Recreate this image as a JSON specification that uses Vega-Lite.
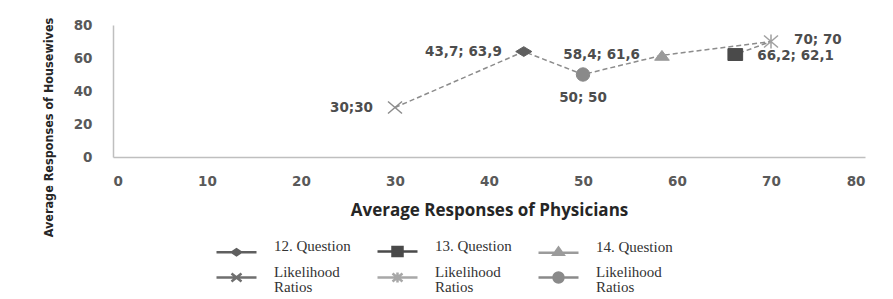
{
  "$schema": "https://vega.github.io/schema/vega-lite/v6.json",
  "width": 752,
  "height": 132,
  "autosize": {"type": "none"},
  "padding": {"left": 113, "top": 25, "right": 28, "bottom": 142},
  "background": "#ffffff",
  "config": {
    "view": {"stroke": null},
    "style": {"guide-label": {"lineHeight": 15}},
    "legend": {
      "orient": "none", "legendX": 101, "legendY": 213,
      "columns": 3, "direction": "horizontal",
      "padding": 0, "columnPadding": 21, "rowPadding": 3,
      "symbolSize": 100, "symbolOffset": 0, "labelOffset": 45, "symbolStrokeWidth": 2.5,
      "symbolOpacity": 1,
      "labelFont": "Liberation Serif", "labelFontSize": 15, "labelColor": "#333333",
      "labelLimit": 200
    }
  },
  "data": {
    "values": [
      {"series": "Likelihood Ratios (x)", "x": 30, "y": 30, "label": "30;30", "seq": 1},
      {"series": "12. Question", "x": 43.7, "y": 63.9, "label": "43,7; 63,9", "seq": 2},
      {"series": "Likelihood Ratios (o)", "x": 50, "y": 50, "label": "50; 50", "seq": 3},
      {"series": "14. Question", "x": 58.4, "y": 61.6, "label": "58,4; 61,6", "seq": 4},
      {"series": "Likelihood Ratios (*)", "x": 70, "y": 70, "label": "70; 70", "seq": 5},
      {"series": "13. Question", "x": 66.2, "y": 62.1, "label": "66,2; 62,1", "seq": 6}
    ]
  },
  "encoding": {
    "x": {
      "field": "x", "type": "quantitative",
      "scale": {"domain": [0, 80], "nice": false},
      "axis": {
        "title": "Average Responses of Physicians",
        "values": [0, 10, 20, 30, 40, 50, 60, 70, 80],
        "grid": false, "ticks": false,
        "domainColor": "#bfbfbf", "domainWidth": 1.5,
        "labelFont": "DejaVu Sans", "labelFontWeight": "bold", "labelFontSize": 13.5,
        "labelColor": "#595959", "labelPadding": 17,
        "titleFont": "Open Sans", "titleFontWeight": "bold", "titleFontSize": 17,
        "titleColor": "#262626", "titlePadding": 15
      }
    },
    "y": {
      "field": "y", "type": "quantitative",
      "scale": {"domain": [0, 80], "nice": false},
      "axis": {
        "title": "Average Responses of Housewives",
        "values": [0, 20, 40, 60, 80],
        "grid": false, "ticks": false,
        "domainColor": "#bfbfbf", "domainWidth": 1.5,
        "labelFont": "DejaVu Sans", "labelFontWeight": "bold", "labelFontSize": 13.5,
        "labelColor": "#595959", "labelPadding": 21,
        "titleFont": "DejaVu Sans Condensed", "titleFontWeight": "bold", "titleFontSize": 12.5,
        "titleColor": "#262626", "titleAngle": -90, "titleAlign": "center", "titleBaseline": "middle",
        "titleX": -65, "titleY": 102
      }
    }
  },
  "layer": [
    {
      "mark": {"type": "line", "color": "#8c8c8c", "strokeWidth": 1.5, "strokeDash": [5, 3]},
      "encoding": {"order": {"field": "seq", "type": "quantitative"}}
    },
    {
      "transform": [{"filter": "false"}],
      "mark": {"type": "point", "filled": true, "opacity": 1},
      "encoding": {
        "fill": {
          "field": "series", "type": "nominal",
          "scale": {
            "domain": ["12. Question", "13. Question", "14. Question", "Likelihood Ratios (x)", "Likelihood Ratios (*)", "Likelihood Ratios (o)"],
            "range": ["#5f5f5f", "#4a4a4a", "#9b9b9b", "#6f6f6f", "#a8a8a8", "#8a8a8a"]
          },
          "legend": {"title": null, "labelExpr": "indexof(datum.value, 'Likelihood') >= 0 ? ['Likelihood', 'Ratios'] : datum.value"}
        },
        "stroke": {
          "field": "series", "type": "nominal",
          "scale": {
            "domain": ["12. Question", "13. Question", "14. Question", "Likelihood Ratios (x)", "Likelihood Ratios (*)", "Likelihood Ratios (o)"],
            "range": ["#5f5f5f", "#4a4a4a", "#9b9b9b", "#6f6f6f", "#a8a8a8", "#8a8a8a"]
          },
          "legend": {"title": null, "labelExpr": "indexof(datum.value, 'Likelihood') >= 0 ? ['Likelihood', 'Ratios'] : datum.value"}
        },
        "shape": {
          "field": "series", "type": "nominal",
          "scale": {
            "domain": ["12. Question", "13. Question", "14. Question", "Likelihood Ratios (x)", "Likelihood Ratios (*)", "Likelihood Ratios (o)"],
            "range": [
              "M-1,1.2H7M2.1,1.2L3,0.6L3.9,1.2L3,1.8Z",
              "M-1,1.2H7M2,0.3H4V2.1H2Z",
              "M-1,1.2H7M2,1.6L3,0.2L4,1.6Z",
              "M-1,1.2H7M2,0.4L4,2M2,2L4,0.4",
              "M-1,1.2H7M2,0.4L4,2M2,2L4,0.4M3,0.2V2.2",
              "M-1,1.2H7M2,1.2A1,1 0 1,0 4,1.2A1,1 0 1,0 2,1.2Z"
            ]
          },
          "legend": {"title": null, "labelExpr": "indexof(datum.value, 'Likelihood') >= 0 ? ['Likelihood', 'Ratios'] : datum.value"}
        }
      }
    },
    {
      "transform": [{"filter": {"field": "series", "equal": "12. Question"}}],
      "mark": {"type": "point", "shape": "M-1.15,0L0,-0.7L1.15,0L0,0.7Z", "filled": true, "fill": "#5f5f5f", "stroke": "#5f5f5f", "strokeWidth": 1, "size": 196, "opacity": 1}
    },
    {
      "transform": [{"filter": {"field": "series", "equal": "13. Question"}}],
      "mark": {"type": "point", "shape": "M-1.05,-0.85H1.05V0.85H-1.05Z", "filled": true, "fill": "#4a4a4a", "stroke": "#4a4a4a", "strokeWidth": 1, "size": 196, "opacity": 1}
    },
    {
      "transform": [{"filter": {"field": "series", "equal": "14. Question"}}],
      "mark": {"type": "point", "shape": "M-1.05,0.7L0,-0.7L1.05,0.7Z", "filled": true, "fill": "#9b9b9b", "stroke": "#9b9b9b", "strokeWidth": 1, "size": 196, "opacity": 1}
    },
    {
      "transform": [{"filter": {"field": "series", "equal": "Likelihood Ratios (x)"}}],
      "mark": {"type": "point", "shape": "M-1,-0.85L1,0.85M-1,0.85L1,-0.85", "filled": false, "stroke": "#8c8c8c", "strokeWidth": 1.5, "size": 196, "opacity": 1}
    },
    {
      "transform": [{"filter": {"field": "series", "equal": "Likelihood Ratios (*)"}}],
      "mark": {"type": "point", "shape": "M-1,-0.85L1,0.85M-1,0.85L1,-0.85M0,-1L0,1", "filled": false, "stroke": "#a0a0a0", "strokeWidth": 1.5, "size": 196, "opacity": 1}
    },
    {
      "transform": [{"filter": {"field": "series", "equal": "Likelihood Ratios (o)"}}],
      "mark": {"type": "point", "shape": "circle", "filled": true, "fill": "#8a8a8a", "stroke": "#8a8a8a", "strokeWidth": 1, "size": 180, "opacity": 1}
    },
    {
      "mark": {"type": "text", "align": "right", "baseline": "middle", "dx": -22, "font": "DejaVu Sans", "fontWeight": "bold", "fontSize": 13.5, "color": "#4d4d4d"},
      "transform": [{"filter": {"field": "label", "oneOf": ["30;30", "43,7; 63,9", "58,4; 61,6"]}}],
      "encoding": {"text": {"field": "label"}}
    },
    {
      "mark": {"type": "text", "align": "left", "baseline": "middle", "dx": 22, "dy": 1, "font": "DejaVu Sans", "fontWeight": "bold", "fontSize": 13.5, "color": "#4d4d4d"},
      "transform": [{"filter": {"field": "label", "oneOf": ["66,2; 62,1"]}}],
      "encoding": {"text": {"field": "label"}}
    },
    {
      "mark": {"type": "text", "align": "left", "baseline": "middle", "dx": 23, "dy": -2, "font": "DejaVu Sans", "fontWeight": "bold", "fontSize": 13.5, "color": "#4d4d4d"},
      "transform": [{"filter": {"field": "label", "oneOf": ["70; 70"]}}],
      "encoding": {"text": {"field": "label"}}
    },
    {
      "mark": {"type": "text", "align": "center", "baseline": "middle", "dy": 23, "font": "DejaVu Sans", "fontWeight": "bold", "fontSize": 13.5, "color": "#4d4d4d"},
      "transform": [{"filter": {"field": "label", "oneOf": ["50; 50"]}}],
      "encoding": {"text": {"field": "label"}}
    }
  ]
}
